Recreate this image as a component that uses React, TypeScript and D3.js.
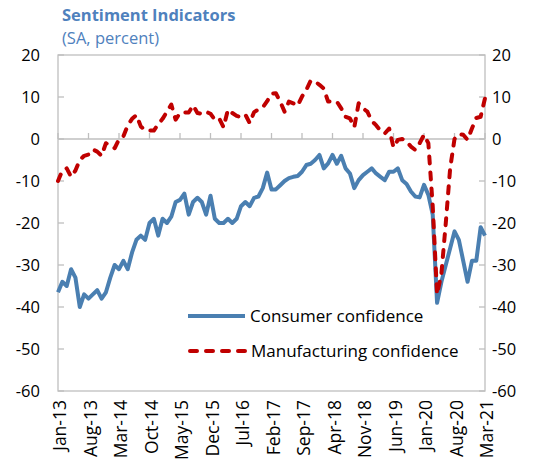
import * as d3 from 'd3';

const WIDTH = 534;
const HEIGHT = 460;
const FONT = "'Segoe UI', 'Open Sans', 'Noto Sans', sans-serif";

// monthly, Jan-13 .. Mar-21
const START = new Date(2013, 0, 1);

const CONSUMER: number[] = [
  -36.5, -34, -35, -31, -33, -40, -37, -38, -37, -36,
  -38, -36.5, -33, -30, -31, -29, -31, -27, -24, -23,
  -24, -20, -19, -23, -19, -20, -18.5, -15, -14.5, -13,
  -18, -15, -14, -15, -18, -13.5, -19, -20, -20, -19,
  -20, -19, -16, -15, -16, -14, -13.7, -11.7, -8, -12,
  -12, -11, -10, -9.3, -9, -8.8, -7.8, -6.2, -5.9, -5,
  -3.8, -7, -5.8, -3.8, -5.9, -4, -7, -8.2, -11.7, -9.8,
  -8.6, -7.8, -7, -8.2, -9, -9.8, -7.8, -7.8, -7, -9.8,
  -10.7, -12.5, -13.7, -13.9, -10.9, -13.3, -18, -39, -34, -30,
  -26, -22, -24, -29, -34, -29, -29, -21, -23,
];

const MANUFACTURING: number[] = [
  -10, -7.5, -7, -9, -7.5, -5, -4, -3.7, -2.5, -3,
  -4, -1, -1.6, -2.2, -0.1, 0.6, 3.2, 4.8, 5.7, 3,
  2.1, 2, 2, 3.5, 4.8, 6.5, 8.2, 4.6, 6.2, 6.3,
  6.3, 8, 6.2, 6, 6.5, 6, 4.6, 4.9, 2.8, 7,
  6.2, 5.5, 5.2, 5.8, 3.8, 6.4, 7, 7.5, 9, 10.8,
  10.9, 8.9, 6.5, 8.9, 8.5, 7.9, 10.1, 11.7, 13.9, 13.7,
  12.9, 12, 8.9, 8.9, 8.9, 7.3, 5.3, 4.9, 2.8, 8.5,
  7.3, 6.5, 4.3, 3.3, 2, 1.3, 2.5, -2, -0.2, 0,
  -0.6, -1.8, -2.6, -1, 1, -1, -16, -37, -32, -20,
  -7, 0, 1.2, 1, -0.2, 2.5, 5, 5.3, 9.7,
];

const Y_TICKS = [20, 10, 0, -10, -20, -30, -40, -50, -60];
const TICK_STEP = 7; // a label every 7 months

const SERIES_NAMES = ['Consumer confidence', 'Manufacturing confidence'];
const BLUE = '#4a7fb1';
const RED = '#c00000';
const AXIS = '#bfbfbf';

const margin = { left: 58, right: 49, top: 55, bottom: 69 };

export default function App() {
  const months = CONSUMER.map((_, i) => d3.timeMonth.offset(START, i));
  const fmt = d3.timeFormat('%b-%y');

  const x = d3
    .scaleLinear()
    .domain([0, months.length - 1])
    .range([margin.left, WIDTH - margin.right]);
  const y = d3
    .scaleLinear()
    .domain([-60, 20])
    .range([HEIGHT - margin.bottom, margin.top]);

  const line = d3
    .line<number>()
    .x((_, i) => x(i))
    .y((d) => y(d));

  const tickIdx = d3.range(0, months.length, TICK_STEP);
  const [x0, x1] = x.range();
  const [yb, yt] = y.range();

  return (
    <div style={{ position: 'absolute', left: 0, top: 0 }}>
      <svg width={WIDTH} height={HEIGHT} style={{ display: 'block' }} fontFamily={FONT}>
        <text x={62} y={21} fill="#4f81bd" fontSize={16.5} fontWeight={700}>
          Sentiment Indicators
        </text>
        <text x={62} y={44} fill="#4f81bd" fontSize={16.5}>
          (SA, percent)
        </text>

        {/* frame */}
        <rect x={x0} y={yt} width={x1 - x0} height={yb - yt} fill="none" stroke={AXIS} strokeWidth={1.3} />
        <line x1={x0} x2={x1} y1={y(0)} y2={y(0)} stroke={AXIS} strokeWidth={1.5} />
        {tickIdx.map((i) => (
          <line key={'xt' + i} x1={x(i)} x2={x(i)} y1={y(0)} y2={y(0) - 6} stroke={AXIS} strokeWidth={1.3} />
        ))}

        {Y_TICKS.map((t) => (
          <g key={'yt' + t}>
            <line x1={x0} x2={x0 + 6} y1={y(t)} y2={y(t)} stroke={AXIS} strokeWidth={1.3} />
            <line x1={x1 - 6} x2={x1} y1={y(t)} y2={y(t)} stroke={AXIS} strokeWidth={1.3} />
            <text x={40} y={y(t)} dy="0.35em" textAnchor="end" fontSize={16.5} fill="#000">
              {t}
            </text>
            <text x={492} y={y(t)} dy="0.35em" textAnchor="start" fontSize={16.5} fill="#000">
              {t}
            </text>
          </g>
        ))}

        {tickIdx.map((i) => (
          <text
            key={'xl' + i}
            transform={`translate(${x(i) + 2},${yb + 9}) rotate(-90)`}
            dy="0.35em"
            textAnchor="end"
            fontSize={17.5}
            fill="#000"
          >
            {fmt(months[i])}
          </text>
        ))}

        <path d={line(CONSUMER) ?? ''} fill="none" stroke={BLUE} strokeWidth={4} strokeLinejoin="round" />
        <path
          d={line(MANUFACTURING) ?? ''}
          fill="none"
          stroke={RED}
          strokeWidth={4}
          strokeLinejoin="round"
          strokeLinecap="round"
          strokeDasharray="7 9"
        />

        {/* legend */}
        <line x1={188} x2={245} y1={316} y2={316} stroke={BLUE} strokeWidth={4} />
        <text x={250} y={316} dy="0.35em" fontSize={17} fill="#000">
          {SERIES_NAMES[0]}
        </text>
        <line
          x1={190}
          x2={245}
          y1={351}
          y2={351}
          stroke={RED}
          strokeWidth={4}
          strokeLinecap="round"
          strokeDasharray="7 9"
        />
        <text x={251} y={351} dy="0.35em" fontSize={17} fill="#000">
          {SERIES_NAMES[1]}
        </text>
      </svg>
    </div>
  );
}
